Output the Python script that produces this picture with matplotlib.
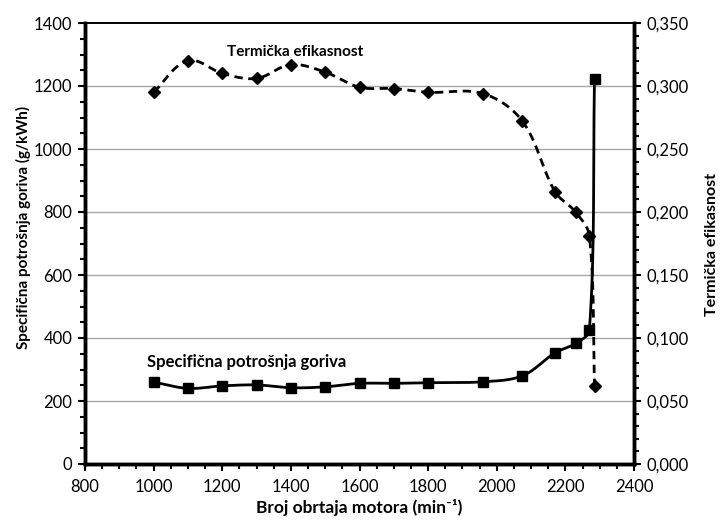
import numpy as np
import matplotlib.pyplot as plt
from matplotlib.ticker import MultipleLocator, FuncFormatter

plt.rcParams['font.family'] = ['Lato', 'DejaVu Sans']

# engine speed (min^-1)
rpm = [1000, 1100, 1200, 1300, 1400, 1500, 1600, 1700, 1800, 1960, 2075, 2170, 2230, 2270, 2285]
# specific fuel consumption (g/kWh)
sfc = [260, 240, 248, 251, 242, 245, 256, 256, 258, 261, 280, 353, 383, 425, 1221]
# thermal efficiency (-)
eff = [0.295, 0.320, 0.310, 0.306, 0.317, 0.311, 0.299, 0.298, 0.295, 0.294,
       0.272, 0.216, 0.200, 0.181, 0.062]

XMIN, XMAX = 800, 2400
W_PX, H_PX = 549, 441


def smooth(x, y, ymax, n=30):
    # bezier smoothing in screen-like space, tangent scaled by segment length
    p = np.column_stack([(np.asarray(x) - XMIN) / (XMAX - XMIN) * W_PX,
                         np.asarray(y) / ymax * H_PX])
    m = len(p)
    d = np.zeros_like(p)
    for i in range(m):
        a = p[max(i - 1, 0)]
        b = p[min(i + 1, m - 1)]
        v = b - a
        d[i] = v / np.linalg.norm(v)
    out = [p[0]]
    t = np.linspace(0, 1, n)[1:, None]
    for i in range(m - 1):
        L = np.linalg.norm(p[i + 1] - p[i])
        c1 = p[i] + d[i] * L / 3
        c2 = p[i + 1] - d[i + 1] * L / 3
        seg = ((1 - t) ** 3 * p[i] + 3 * (1 - t) ** 2 * t * c1
               + 3 * (1 - t) * t ** 2 * c2 + t ** 3 * p[i + 1])
        out.extend(seg)
    out = np.array(out)
    return (out[:, 0] / W_PX * (XMAX - XMIN) + XMIN, out[:, 1] / H_PX * ymax)


fig = plt.figure(figsize=(7.24, 5.28), dpi=100)
ax = fig.add_axes([85 / 724, 64 / 528, 549 / 724, 441 / 528])
ax2 = ax.twinx()

ax.set_xlim(XMIN, XMAX)
ax.set_ylim(0, 1400)
ax2.set_ylim(0, 0.35)

for g in range(200, 1400, 200):
    ax.axhline(g, color='#a6a6a6', lw=1.0, zorder=0)

sx, sy = smooth(rpm, sfc, 1400)
ax.plot(sx, sy, color='black', lw=2.0, zorder=3)
ax.plot(rpm, sfc, 's', color='black', ms=7.5, zorder=4)

ex, ey = smooth(rpm, eff, 0.35)
ax2.plot(ex, ey, color='black', lw=2.0, dashes=(3, 2), zorder=3)
ax2.plot(rpm, eff, 'D', color='black', ms=6.5, zorder=4)

ax.xaxis.set_major_locator(MultipleLocator(200))
ax.xaxis.set_minor_locator(MultipleLocator(50))
ax.yaxis.set_major_locator(MultipleLocator(200))
ax.yaxis.set_minor_locator(MultipleLocator(50))
ax2.yaxis.set_major_locator(MultipleLocator(0.05))
ax2.yaxis.set_minor_locator(MultipleLocator(0.01))
ax2.yaxis.set_major_formatter(FuncFormatter(lambda v, p: f'{v:.3f}'.replace('.', ',')))

for a in (ax, ax2):
    a.tick_params(which='major', direction='out', length=5, width=1.5, labelsize=12, pad=4)
    a.tick_params(which='minor', direction='out', length=3.5, width=1.5)
    a.spines['top'].set_linewidth(1.2)
    for s in ('left', 'right', 'bottom'):
        a.spines[s].set_linewidth(2.5)
ax.tick_params(axis='x', pad=6)

ax.set_xlabel('Broj obrtaja motora (min⁻¹)', fontsize=12.5, fontweight='bold', labelpad=3)
fig.text(23 / 724, 1 - 227 / 528, 'Specifična potrošnja goriva (g/kWh)', rotation=90,
         fontsize=11, fontweight='bold', ha='center', va='center')
fig.text(712 / 724, 1 - 245 / 528, 'Termička efikasnost', rotation=90,
         fontsize=11.5, fontweight='bold', ha='center', va='center')

ax.text(1214, 1308, 'Termička efikasnost', fontsize=11, fontweight='bold', ha='left', va='center')
ax.text(981, 324, 'Specifična potrošnja goriva', fontsize=12, fontweight='bold', ha='left', va='center')

fig.savefig('out.png', dpi=100)
